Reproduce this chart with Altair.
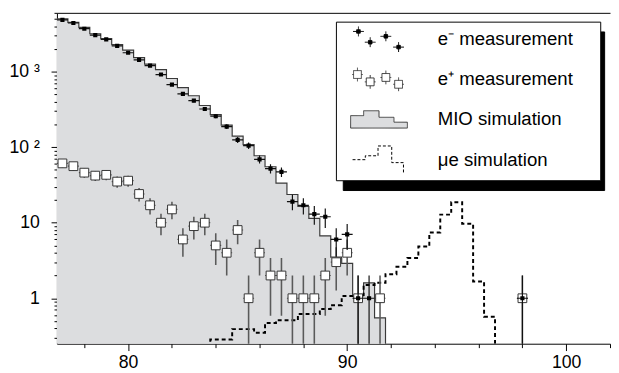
import math
import altair as alt
import pandas as pd

# ---------------- data ----------------
# e- measurement (bin centre, counts)
em_x = [77.0, 77.5, 78.0, 78.5, 79.0, 79.5, 80.0, 80.5, 81.0, 81.5,
        82.0, 82.5, 83.0, 83.5, 84.0, 84.5, 85.0, 85.5, 86.0, 86.5,
        87.0, 87.5, 88.0, 88.5, 89.0, 89.5, 90.0, 90.5, 91.0, 98.0]
em_n = [4850, 4400, 3700, 3040, 2670, 2190, 1780, 1430, 1200, 915,
        672, 508, 413, 320, 257, 187, 125, 105, 69, 52,
        47, 19, 17, 13, 12, 6, 7, 1, 1, 1]

# e+ measurement
ep_x = [77.0, 77.5, 78.0, 78.5, 79.0, 79.5, 80.0, 80.5, 81.0, 81.5,
        82.0, 82.5, 83.0, 83.5, 84.0, 84.5, 85.0, 85.5, 86.0, 86.5,
        87.0, 87.5, 88.0, 88.5, 89.0, 89.5, 90.0, 90.5, 91.5, 98.0]
ep_n = [61, 56, 46, 42, 43, 35, 36, 24, 17, 10,
        15, 6, 9, 10, 5, 4, 8, 1, 4, 2,
        2, 1, 1, 1, 2, 3, 4, 1, 1, 1]

# MIO simulation histogram (bin centres, contents)
mio_x = [77.0, 77.5, 78.0, 78.5, 79.0, 79.5, 80.0, 80.5, 81.0, 81.5,
         82.0, 82.5, 83.0, 83.5, 84.0, 84.5, 85.0, 85.5, 86.0, 86.5,
         87.0, 87.5, 88.0, 88.5, 89.0, 89.5, 90.0, 90.5, 91.0, 91.5]
mio_v = [5000, 4480, 3860, 3170, 2730, 2280, 1930, 1530, 1258, 1061,
         811, 615, 479, 356, 270, 196, 140, 108, 77, 55,
         33.5, 23.6, 16.4, 11.4, 6.7, 3.5, 2.9, 1.07, 1.6, 0.55]

# mu-e simulation histogram
mue_x = [84.0, 84.5, 85.0, 85.5, 86.0, 86.5, 87.0, 87.5, 88.0, 88.5,
         89.0, 89.5, 90.0, 90.5, 91.0, 91.5, 92.0, 92.5, 93.0, 93.5,
         94.0, 94.5, 95.0, 95.5, 96.0, 96.5]
mue_v = [0.285, 0.285, 0.39, 0.39, 0.35, 0.47, 0.51, 0.51, 0.62, 0.62,
         0.72, 0.81, 1.07, 1.1, 1.5, 1.6, 2.08, 2.61, 3.41, 4.83,
         7.4, 12.8, 18.6, 9.7, 1.67, 0.57]

series = ["e⁻ measurement", "e⁺ measurement", "MIO simulation", "μe simulation"]

x_ticks = [78, 80, 82, 84, 86, 88, 90, 92, 94, 96, 98, 100, 102]
y_ticks = [0.3, 0.4, 0.5, 0.6, 0.7, 0.8, 0.9, 1, 2, 3, 4, 5, 6, 7, 8, 9,
           10, 20, 30, 40, 50, 60, 70, 80, 90, 100, 200, 300, 400, 500,
           600, 700, 800, 900, 1000, 2000, 3000, 4000, 5000, 6000]

HALF = 0.25          # half bin width
EMPTY = 0.05         # stands for an empty bin on the log axis (clipped away)

# ---------------- frames ----------------
def meas_frame(xs, ns):
    return pd.DataFrame({
        "x": xs, "n": ns,
        "lo": [max(n - math.sqrt(n), EMPTY) for n in ns],
        "hi": [n + math.sqrt(n) for n in ns],
        "xl": [x - HALF for x in xs],
        "xr": [x + HALF for x in xs],
    })

em = meas_frame(em_x, em_n)
ep = meas_frame(ep_x, ep_n)

mio_area = pd.DataFrame({
    "x": [c - HALF for c in mio_x] + [mio_x[-1] + HALF],
    "v": mio_v + [mio_v[-1]],
})
mio_area["base"] = EMPTY
mio_line = pd.DataFrame({
    "x": [c - HALF for c in mio_x] + [mio_x[-1] + HALF] * 2,
    "v": mio_v + [mio_v[-1], EMPTY],
})
mio_line["o"] = range(len(mio_line))
mue_line = pd.DataFrame({
    "x": [mue_x[0] - HALF] + [c - HALF for c in mue_x] + [mue_x[-1] + HALF] * 2,
    "v": [EMPTY] + mue_v + [mue_v[-1], EMPTY],
})
mue_line["o"] = range(len(mue_line))

leg_df = pd.DataFrame({"s": series, "sb": series})

# ---------------- scales / axes ----------------
FONT = "Liberation Sans"
xs = alt.Scale(domain=[76.75, 102], nice=False, zero=False)
ys = alt.Scale(type="log", domain=[0.25, 6000], nice=False)

is_major_x = "datum.value == 80 || datum.value == 90 || datum.value == 100"
is_major_y = "datum.value == 1 || datum.value == 10 || datum.value == 100 || datum.value == 1000"

x_axis = alt.Axis(values=x_ticks, title=None, grid=False,
                  labelExpr=f"({is_major_x}) ? datum.label : ''",
                  tickSize={"condition": {"test": is_major_x, "value": 7}, "value": 4},
                  labelFont=FONT, labelFontSize=18, labelColor="black",
                  domainColor="black", tickColor="black", labelPadding=3,
                  labelOverlap=False, labelFlush=False)
x_top = alt.Axis(orient="top", title=None, grid=False, labels=False, ticks=False,
                 domainColor="black")
y_axis = alt.Axis(orient="left", values=y_ticks, title=None, grid=False,
                  labelExpr=("datum.value == 1000 ? '10\u00a0³' : datum.value == 100 ? '10\u00a0²' : "
                             "datum.value == 10 ? '10\u00a0\u00a0' : datum.value == 1 ? '1\u00a0\u00a0' : ''"),
                  tickSize={"condition": {"test": is_major_y, "value": 6}, "value": 3},
                  labelFontSize={"condition": {"test": is_major_y, "value": 18}, "value": 1},
                  labelFont=FONT, labelColor="black",
                  domainColor="black", tickColor="black", labelPadding=12,
                  labelOverlap=False, labelFlush=False)

def X(f, axis=None):
    return alt.X(f, type="quantitative", scale=xs, axis=axis)

def Y(f):
    # every layer carries the same y axis so that they merge into one
    return alt.Y(f, type="quantitative", scale=ys, axis=y_axis)

GRAY = "#dcdddf"

area = alt.Chart(mio_area).mark_area(interpolate="step-after", color=GRAY, clip=True).encode(
    x=X("x"), y=alt.Y("v", type="quantitative", scale=ys, axis=y_axis, stack=None), y2="base")
mio_l = alt.Chart(mio_line).mark_line(interpolate="step-after", color="#3a3a3a",
                                      strokeWidth=1.2, clip=True).encode(
    x=X("x"), y=Y("v"), order="o:Q")
mue_l = alt.Chart(mue_line).mark_line(interpolate="step-after", color="black",
                                      strokeWidth=2, strokeDash=[4, 3], clip=True).encode(
    x=X("x", x_top), y=Y("v"), order="o:Q")

ep_v = alt.Chart(ep).mark_rule(color="#5a5a5a", strokeWidth=1.6, clip=True).encode(
    x=X("x"), y=Y("lo"), y2="hi")
ep_h = alt.Chart(ep).mark_rule(color="#5a5a5a", strokeWidth=1.2, clip=True).encode(
    x=X("xl"), x2="xr", y=Y("n"))
ep_p = alt.Chart(ep).mark_point(shape="square", filled=True, fill="white", stroke="#333333",
                                strokeWidth=1, size=80, opacity=1, clip=True).encode(
    x=X("x"), y=Y("n"))

em_v = alt.Chart(em).mark_rule(color="#111111", strokeWidth=1.2, clip=True).encode(
    x=X("x"), y=Y("lo"), y2="hi")
em_h = alt.Chart(em).mark_rule(color="#111111", strokeWidth=1.2, clip=True).encode(
    x=X("xl"), x2="xr", y=Y("n"))
em_p = alt.Chart(em).mark_square(color="black", size=18, opacity=1, clip=True).encode(
    x=X("x", x_axis), y=Y("n"))

# ---------------- legend symbols (custom paths, pixel units / 13.5) ----------------
U = 13.5

def fmt(v):
    return f"{v / U:.4f}".rstrip("0").rstrip(".")

def path(cmds):
    out = [f"M0,{fmt(-15)}M0,{fmt(15)}"]   # equal vertical extent for every entry
    for c in cmds:
        if c[0] == "Z":
            out.append("Z")
        else:
            out.append(f"{c[0]}{fmt(c[1])},{fmt(c[2])}")
    return "".join(out)

def cross_sym():
    cmds = []
    for cx, cy in [(-21, -8), (-9, 3), (7, -3), (20, 8)]:
        cmds += [("M", cx - 5.5, cy), ("L", cx + 5.5, cy),
                 ("M", cx, cy - 5), ("L", cx, cy + 5),
                 ("M", cx - 1.8, cy - 1.8), ("L", cx + 1.8, cy - 1.8),
                 ("L", cx + 1.8, cy + 1.8), ("L", cx - 1.8, cy + 1.8), ("Z",)]
    return path(cmds)

def square_sym():
    cmds = []
    h = 4
    for cx, cy in [(-22, -5), (-9, 2.5), (7, -2), (20, 5)]:
        cmds += [("M", cx - h, cy - h), ("L", cx + h, cy - h), ("L", cx + h, cy + h),
                 ("L", cx - h, cy + h), ("Z",),
                 ("M", cx, cy - h), ("L", cx, cy - h - 3),
                 ("M", cx, cy + h), ("L", cx, cy + h + 3),
                 ("M", cx - h, cy), ("L", cx - h - 1.5, cy),
                 ("M", cx + h, cy), ("L", cx + h + 1.5, cy)]
    return path(cmds)

def mio_sym():
    return path([("M", -29, 8.7), ("L", -29, -4), ("L", -15.7, -4), ("L", -15.7, -9),
                 ("L", 0, -9), ("L", 0, -2.3), ("L", 15.3, -2.3), ("L", 15.3, 2.7),
                 ("L", 29, 2.7), ("L", 29, 8.7), ("Z",)])

def mue_sym():
    return path([("M", -27, 0), ("L", -14, 0), ("L", -14, -4), ("L", -1, -4),
                 ("L", -1, -14), ("L", 13, -14), ("L", 13, 3), ("L", 25, 3), ("L", 25, 14)])

LABEL_W = 135   # width of the longest legend label at 19px
common = dict(title="\u00a0", titleOrient="right", titleFontSize=10,
              orient="none", padding=4, symbolSize=729, symbolStrokeWidth=1,
              symbolOffset=26, labelOffset=46, rowPadding=7, labelFont=FONT,
              labelFontSize=19, labelColor="black", labelLimit=400)

legA = alt.Legend(legendX=285, legendY=9, fillColor="white", strokeColor="black",
                  symbolOpacity=1, titlePadding=24, **common)
legB = alt.Legend(legendX=292, legendY=19, fillColor="black", strokeColor="black",
                  symbolType=mue_sym(), labelExpr="''", titlePadding=24 + LABEL_W, **common)

legend_b = alt.Chart(leg_df).mark_point(opacity=0).encode(
    x=alt.X(datum=90, type="quantitative", scale=xs, axis=None),
    y=alt.Y(datum=1, type="quantitative", scale=ys, axis=y_axis),
    color=alt.Color("sb:N", legend=legB, scale=alt.Scale(range=["black"] * 4)),
)
legend_a = alt.Chart(leg_df).mark_point(opacity=0).encode(
    x=alt.X(datum=90, type="quantitative", scale=xs, axis=None),
    y=alt.Y(datum=1, type="quantitative", scale=ys, axis=y_axis),
    fill=alt.Fill("s:N", legend=legA,
                  scale=alt.Scale(domain=series, range=["black", "white", GRAY, "transparent"])),
    stroke=alt.Stroke("s:N", legend=legA,
                      scale=alt.Scale(domain=series, range=["black", "#333333", "#3a3a3a", "black"])),
    shape=alt.Shape("s:N", legend=legA,
                    scale=alt.Scale(domain=series, range=[cross_sym(), square_sym(), mio_sym(), mue_sym()])),
    strokeDash=alt.StrokeDash("s:N", legend=legA,
                              scale=alt.Scale(domain=series, range=[[1, 0], [1, 0], [1, 0], [3, 2]])),
)

chart = alt.layer(area, mio_l, mue_l, ep_v, ep_h, ep_p, em_v, em_h, em_p, legend_b, legend_a).resolve_axis(
    x="independent"
).properties(
    width=565, height=338, padding={"left": 0, "top": 0, "right": 0, "bottom": 0},
    background="white",
).configure_view(stroke=None)

chart.save("out.html", embed_options={"renderer": "svg", "actions": False})
